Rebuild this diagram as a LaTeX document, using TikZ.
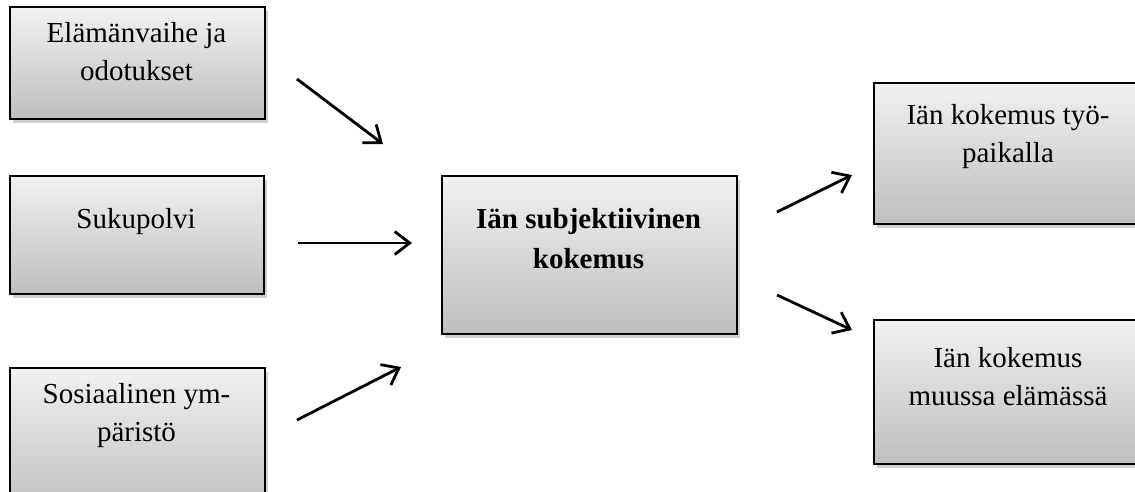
\documentclass[tikz,border=0pt]{standalone}
\usepackage{fontspec}
\setmainfont{Liberation Serif}
\usetikzlibrary{arrows.meta,shadows}
\definecolor{boxtop}{RGB}{241,241,241}
\definecolor{boxbot}{RGB}{190,190,190}
\definecolor{shadowgray}{RGB}{150,150,150}
\tikzset{
  box/.style={draw=black, line width=2pt, anchor=north west, inner sep=0pt,
    top color=boxtop, bottom color=boxbot,
    drop shadow={shadow xshift=3pt, shadow yshift=-4pt, opacity=0.45, fill=shadowgray}},
  lbl/.style={anchor=base, align=center, inner sep=0pt,
    font=\fontsize{29}{38}\selectfont},
  conn/.style={line width=2.8pt, -{Straight Barb[length=15pt,width=23pt,line width=2.8pt]}}
}
\begin{document}
\begin{tikzpicture}[x=1pt,y=-1pt]
\useasboundingbox (0,0) rectangle (1135,492);
% boxes
\node[box, minimum width=255pt, minimum height=112pt] (b1) at (9,6) {};
\node[box, minimum width=254pt, minimum height=118pt] (b2) at (9,175) {};
\node[box, minimum width=255pt, minimum height=150pt] (b3) at (9,367) {};
\node[box, minimum width=295pt, minimum height=158pt] (c) at (441,175) {};
\node[box, minimum width=270pt, minimum height=141pt] (r1) at (873,82) {};
\node[box, minimum width=270pt, minimum height=144pt] (r2) at (873,319) {};
% texts (anchor = baseline of last line)
\node[lbl] (t1) at (136.5,81) {Elämänvaihe ja\\odotukset};
\node[lbl] (t2) at (136,228) {Sukupolvi};
\node[lbl] (t3) at (136.5,441) {Sosiaalinen ym-\\päristö};
\node[lbl, font=\fontsize{29}{40}\selectfont\bfseries] (tc) at (588.5,268) {Iän subjektiivinen\\kokemus};
\node[lbl] (tr1) at (1008,163) {Iän kokemus työ-\\paikalla};
\node[lbl] (tr2) at (1008,405) {Iän kokemus\\muussa elämässä};
% connector ends
\coordinate (a1s) at (297,79);  \coordinate (a1e) at (383,144);
\coordinate (a2s) at (298,243); \coordinate (a2e) at (412,243);
\coordinate (a3s) at (297,420); \coordinate (a3e) at (401,367);
\coordinate (a4s) at (777,212); \coordinate (a4e) at (852,175);
\coordinate (a5s) at (777,295); \coordinate (a5e) at (852,330);
\draw[conn] (a1s) -- (a1e);
\draw[conn] (a2s) -- (a2e);
\draw[conn] (a3s) -- (a3e);
\draw[conn] (a4s) -- (a4e);
\draw[conn] (a5s) -- (a5e);
\end{tikzpicture}
\end{document}
